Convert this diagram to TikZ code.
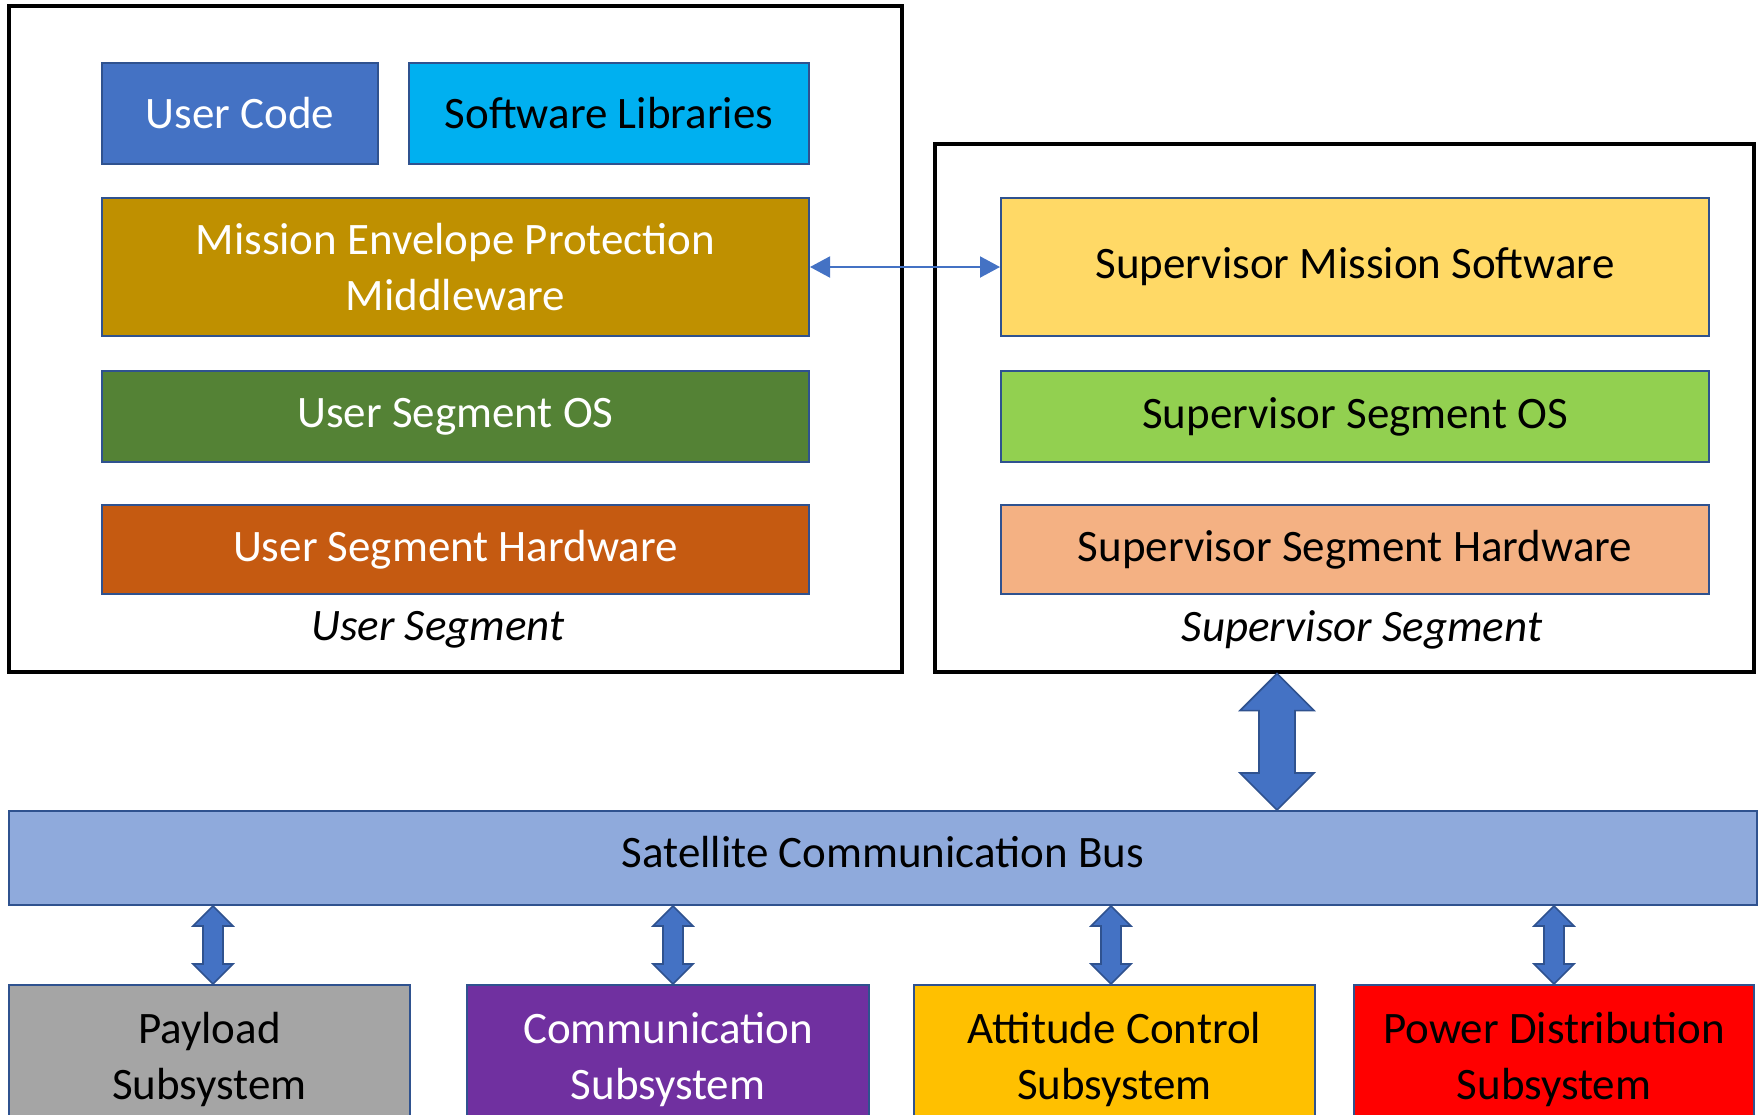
\documentclass[tikz,border=0pt]{standalone}
\usepackage{fontspec}
\setmainfont{Carlito}
\usetikzlibrary{calc,arrows.meta}
\definecolor{bordc}{HTML}{2F528F}
\definecolor{ucodec}{HTML}{4472C4}
\definecolor{swlibc}{HTML}{00B0F0}
\definecolor{mepc}{HTML}{BF9000}
\definecolor{uosc}{HTML}{548235}
\definecolor{uhwc}{HTML}{C55A11}
\definecolor{smswc}{HTML}{FFD966}
\definecolor{sosc}{HTML}{92D050}
\definecolor{shwc}{HTML}{F4B183}
\definecolor{busc}{HTML}{8FAADC}
\definecolor{payc}{HTML}{A5A5A5}
\definecolor{comc}{HTML}{7030A0}
\definecolor{attc}{HTML}{FFC000}
\definecolor{pwrc}{HTML}{FF0000}
% block arrow: top tip, bottom tip, shaft half width, head half width, head length
\newcommand\blockarrow[5]{%
  \filldraw[barrow] (#1) -- ($(#1)+(#4,#5)$) -- ($(#1)+(#3,#5)$) -- ($(#2)+(#3,-#5)$)
    -- ($(#2)+(#4,-#5)$) -- (#2) -- ($(#2)+(-#4,-#5)$) -- ($(#2)+(-#3,-#5)$)
    -- ($(#1)+(-#3,#5)$) -- ($(#1)+(-#4,#5)$) -- cycle;}
\begin{document}
\begin{tikzpicture}[x=0.5pt,y=-0.5pt,>={Triangle[length=10pt,width=10.5pt]},
  blk/.style={draw=bordc,line width=1pt,inner sep=0pt,align=center,
    font=\fontsize{22.5}{28}\selectfont},
  seg/.style={draw=black,line width=1.6pt,inner sep=0pt},
  seglbl/.style={font=\fontsize{22.5}{28}\selectfont\itshape},
  barrow/.style={fill=ucodec,draw=bordc,line width=0.8pt,line join=miter},
  link/.style={draw=ucodec,line width=1pt,<->,>={Triangle[length=10pt,width=10.5pt]}}]
\useasboundingbox (0,0) rectangle (1762,1114);
\clip (0,0) rectangle (1762,1114);
%%
\node (usr) at (455.5,339) [seg,minimum width=446.5pt,minimum height=333pt] {};
  \node (sup) at (1344.5,408) [seg,minimum width=409.5pt,minimum height=264pt] {};
  \node (ucode) at (240,113.5) [blk,fill=ucodec,text=white,minimum width=138pt,minimum height=50.5pt] {User Code};
  \node (swlib) at (609,113.5) [blk,fill=swlibc,minimum width=200pt,minimum height=50.5pt] {Software Libraries};
  \node (mep) at (455.5,267) [blk,fill=mepc,text=white,minimum width=353.5pt,minimum height=69pt] {Mission Envelope Protection\\Middleware};
  \node (uos) at (455.5,416.5) [blk,fill=uosc,text=white,minimum width=353.5pt,minimum height=45.5pt] {User Segment OS};
  \node (uhw) at (455.5,549.5) [blk,fill=uhwc,text=white,minimum width=353.5pt,minimum height=44.5pt] {User Segment Hardware};
  \node (usrlbl) at (438,630) [seglbl] {User Segment};
  \node (smsw) at (1355,267) [blk,fill=smswc,minimum width=354pt,minimum height=69pt] {Supervisor Mission Software};
  \node (sos) at (1355,416.5) [blk,fill=sosc,minimum width=354pt,minimum height=45.5pt] {Supervisor Segment OS};
  \node (shw) at (1355,549.5) [blk,fill=shwc,minimum width=354pt,minimum height=44.5pt] {Supervisor Segment Hardware};
  \node (suplbl) at (1362,630) [seglbl] {Supervisor Segment};
  \node (bus) at (883,858) [blk,fill=busc,text depth=6pt,minimum width=874pt,minimum height=47pt] {Satellite Communication Bus};
  \node (pay) at (209.5,1059.5) [blk,fill=payc,minimum width=200.5pt,minimum height=74.5pt] {Payload\\Subsystem};
  \node (com) at (668,1059.5) [blk,fill=comc,text=white,minimum width=201pt,minimum height=74.5pt] {Communication\\Subsystem};
  \node (att) at (1114.5,1059.5) [blk,fill=attc,minimum width=200.5pt,minimum height=74.5pt] {Attitude Control\\Subsystem};
  \node (pwr) at (1554,1059.5) [blk,fill=pwrc,minimum width=200pt,minimum height=74.5pt] {Power Distribution\\Subsystem};
%
  \draw [link] (mep.east) -- (smsw.west);
  \coordinate (bigtop) at ($(sup.south)+(-67.5,0)$);
  \coordinate (bigbot) at (bigtop |- bus.north);
  \blockarrow{bigtop}{bigbot}{18}{37}{37}
  \foreach \b/\dx in {pay/3.5,com/5,att/-3.5,pwr/0} {
    \coordinate (\b top) at ($(bus.south -| \b.north)+(\dx,0)$);
    \coordinate (\b bot) at ($(\b.north)+(\dx,0)$);
    \blockarrow{\b top}{\b bot}{10}{20}{20}
  }
%
\end{tikzpicture}
\end{document}
